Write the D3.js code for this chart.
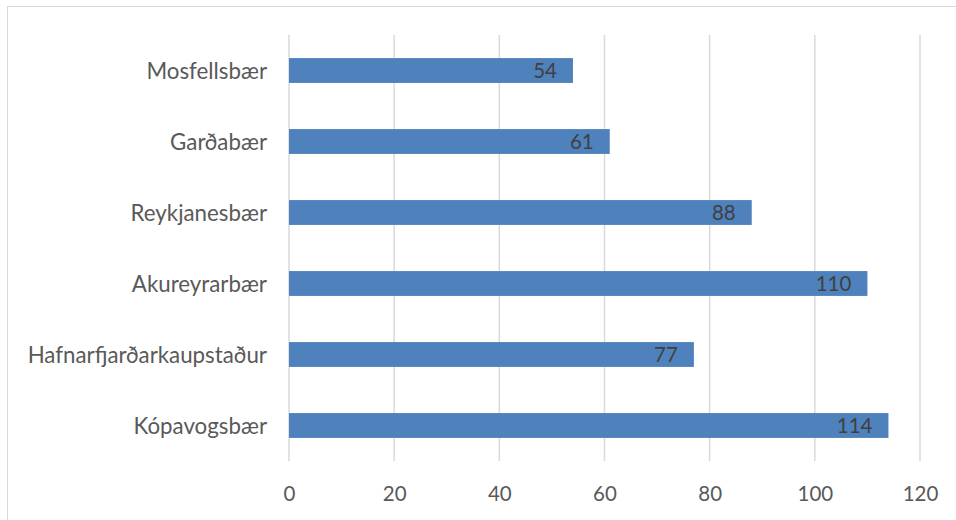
<!DOCTYPE html>
<html>
<head>
<meta charset="utf-8">
<script src="https://cdn.jsdelivr.net/npm/d3@7"></script>
<style>
  html, body { margin: 0; padding: 0; background: #fff; }
  svg { display: block; }
  text { font-family: Lato, "Open Sans", sans-serif; }
</style>
</head>
<body>
<svg id="chart" width="956" height="520"></svg>
<script>
const categories = ["Mosfellsbær", "Garðabær", "Reykjanesbær", "Akureyrarbær", "Hafnarfjarðarkaupstaður", "Kópavogsbær"];
const values = [54, 61, 88, 110, 77, 114];
const xTicks = [0, 20, 40, 60, 80, 100, 120];

const W = 956, H = 520;
const margin = { top: 35, right: 36, bottom: 59, left: 289 };
const svg = d3.select("#chart");

svg.append("rect")
  .attr("x", 7.5).attr("y", 6.5)
  .attr("width", W).attr("height", H)
  .attr("fill", "#fff").attr("stroke", "#d9d9d9").attr("stroke-width", 1);

const x = d3.scaleLinear().domain([0, 120]).range([margin.left, W - margin.right]);
const y = d3.scaleBand().domain(categories)
  .range([margin.top, H - margin.bottom])
  .paddingInner(0.65).paddingOuter(0.325);

// gridlines
svg.append("g").selectAll("line").data(xTicks).join("line")
  .attr("x1", d => x(d)).attr("x2", d => x(d))
  .attr("y1", margin.top).attr("y2", H - margin.bottom)
  .attr("stroke", "#d9d9d9").attr("stroke-width", 1.5);

// bars
const data = categories.map((c, i) => ({ c, v: values[i] }));
svg.append("g").selectAll("rect").data(data).join("rect")
  .attr("x", x(0)).attr("y", d => y(d.c))
  .attr("width", d => x(d.v) - x(0)).attr("height", y.bandwidth())
  .attr("fill", "#4f81bd");

// data labels
svg.append("g").selectAll("text").data(data).join("text")
  .attr("x", d => x(d.v) - 16)
  .attr("y", d => y(d.c) + y.bandwidth() / 2)
  .attr("dy", "0.36em")
  .attr("text-anchor", "end")
  .attr("font-size", 20.5)
  .attr("fill", "#404040")
  .text(d => d.v);

// y axis labels
const yAxis = d3.axisLeft(y).tickSize(0).tickPadding(22);
const gy = svg.append("g").attr("transform", `translate(${margin.left},0)`).call(yAxis);
gy.select(".domain").remove();
gy.selectAll("text").attr("font-size", 22.3).attr("fill", "#595959")
  .attr("font-family", "Lato, 'Open Sans', sans-serif").attr("dy", "0.36em");

// x axis labels
const xAxis = d3.axisBottom(x).tickValues(xTicks).tickSize(0).tickPadding(0);
const gx = svg.append("g").attr("transform", `translate(0,${H - margin.bottom})`).call(xAxis);
gx.select(".domain").remove();
gx.selectAll("text").attr("font-size", 20.5).attr("fill", "#595959")
  .attr("font-family", "Lato, 'Open Sans', sans-serif")
  .attr("dy", null).attr("y", 40);
</script>
</body>
</html>
